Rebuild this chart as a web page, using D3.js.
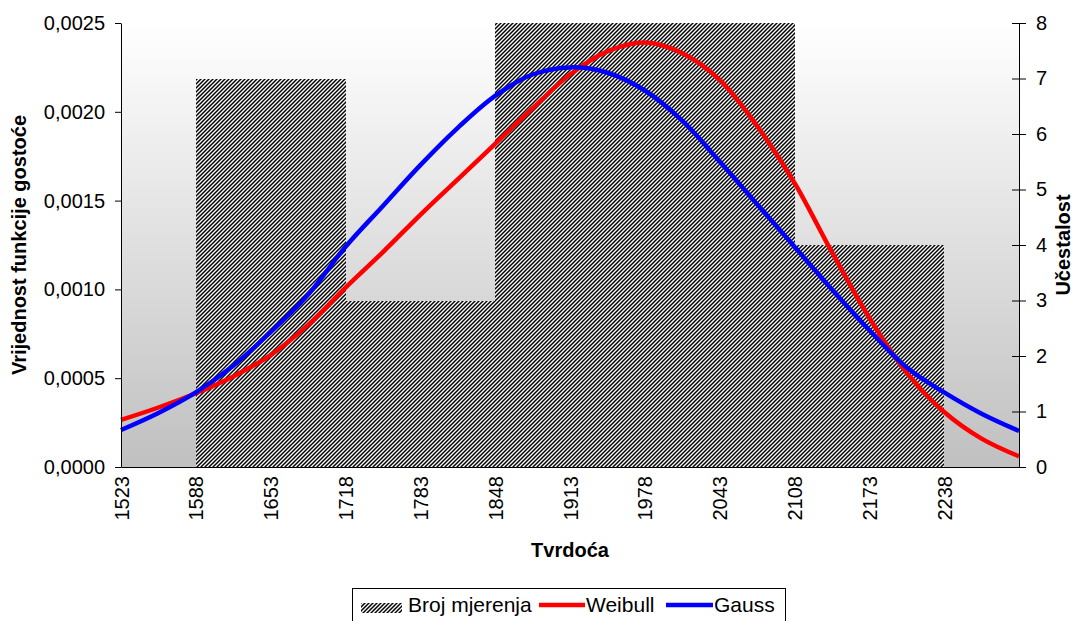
<!DOCTYPE html>
<html>
<head>
<meta charset="utf-8">
<script src="https://cdn.jsdelivr.net/npm/d3@7"></script>
<style>
	body { margin: 0; background: #fff; }
	text { font-family: "Liberation Sans", Arial, sans-serif; fill: #000; }
</style>
</head>
<body>
<div id="chart"></div>
<script>
(function() {
	"use strict";

	// kategorije (oznake na osi x) i broj mjerenja po kategoriji
	var categories = [1523, 1588, 1653, 1718, 1783, 1848, 1913, 1978, 2043, 2108, 2173, 2238],
		counts = [0, 7, 7, 3, 3, 8, 8, 8, 8, 4, 4, 0],
		binWidth = 65;

	// tocke krivulja ocitane sa slike
	var curveX = [1523, 1555.5, 1588, 1620.5, 1653, 1685.5, 1718, 1750.5, 1783, 1815.5, 1848, 1880.5,
		1913, 1945.5, 1978, 2010.5, 2043, 2075.5, 2108, 2140.5, 2173, 2205.5, 2238, 2270.5, 2303],
		weibull = [0.000265, 0.000335, 0.000415, 0.00051, 0.00063, 0.0008, 0.00101, 0.00121, 0.00142, 0.00162,
			0.00182, 0.00202, 0.00221, 0.00234, 0.00239, 0.00233, 0.00218, 0.00192, 0.0016, 0.00121,
			0.00084, 0.00053, 0.00031, 0.00016, 0.00006],
		gauss = [0.000208, 0.000304, 0.00042, 0.00057, 0.00076, 0.00097, 0.00124, 0.00147, 0.0017, 0.00191,
			0.00209, 0.00221, 0.00225, 0.00222, 0.00212, 0.00195, 0.00172, 0.00148, 0.00124, 0.001,
			0.00077, 0.00056, 0.00042, 0.0003, 0.000203];

	var leftTicks = [0, 0.0005, 0.001, 0.0015, 0.002, 0.0025],
		rightTicks = [0, 1, 2, 3, 4, 5, 6, 7, 8];

	var chartWidth = 1076,
		chartHeight = 621,
		plot = { left: 121, right: 1019, top: 23, bottom: 467 },
		fontSize = 20,
		titleSize = 20,
		legendSize = 21;

	var svg = d3.select("#chart")
		.append("svg")
		.attr("width", chartWidth)
		.attr("height", chartHeight);

	var defs = svg.append("defs");

	var grad = defs.append("linearGradient")
		.attr("id", "bg")
		.attr("x1", 0).attr("y1", 0)
		.attr("x2", 0).attr("y2", 1);
	grad.append("stop").attr("offset", "0%").attr("stop-color", "#ffffff");
	grad.append("stop").attr("offset", "100%").attr("stop-color", "#c0c0c0");

	var hatch = defs.append("pattern")
		.attr("id", "hatch")
		.attr("patternUnits", "userSpaceOnUse")
		.attr("width", 4)
		.attr("height", 4);
	hatch.append("rect")
		.attr("width", 4)
		.attr("height", 4)
		.attr("fill", "#fff");
	hatch.append("path")
		.attr("d", "M-1,1 l2,-2 M0,4 l4,-4 M3,5 l2,-2")
		.attr("stroke", "#000")
		.attr("stroke-width", 1.5);

	var x = d3.scaleLinear()
			.domain([categories[0], categories[categories.length - 1] + binWidth])
			.range([plot.left, plot.right]),
		yLeft = d3.scaleLinear()
			.domain([0, 0.0025])
			.range([plot.bottom, plot.top]),
		yRight = d3.scaleLinear()
			.domain([0, 8])
			.range([plot.bottom, plot.top]);

	// pozadina
	svg.append("rect")
		.attr("x", plot.left)
		.attr("y", plot.top)
		.attr("width", plot.right - plot.left)
		.attr("height", plot.bottom - plot.top)
		.attr("fill", "url(#bg)");

	// stupci
	svg.append("g")
		.selectAll("rect")
		.data(categories.map(function(c, i) { return { cat: c, n: counts[i] }; }).filter(function(d) { return d.n > 0; }))
		.enter()
		.append("rect")
		.attr("x", function(d) { return Math.round(x(d.cat)); })
		.attr("width", function(d) { return Math.round(x(d.cat + binWidth)) - Math.round(x(d.cat)); })
		.attr("y", function(d) { return yRight(d.n); })
		.attr("height", function(d) { return plot.bottom - yRight(d.n); })
		.attr("fill", "url(#hatch)")
		.attr("shape-rendering", "crispEdges");

	// krivulje
	var line = d3.line()
		.x(function(d) { return x(d[0]); })
		.y(function(d) { return yLeft(d[1]); })
		.curve(d3.curveCatmullRom);

	svg.append("path")
		.datum(curveX.map(function(v, i) { return [v, weibull[i]]; }))
		.attr("d", line)
		.attr("fill", "none")
		.attr("stroke", "#ff0000")
		.attr("stroke-width", 4.5);

	svg.append("path")
		.datum(curveX.map(function(v, i) { return [v, gauss[i]]; }))
		.attr("d", line)
		.attr("fill", "none")
		.attr("stroke", "#0000ff")
		.attr("stroke-width", 4.5);

	// osi
	var leftAxis = svg.append("g")
		.attr("transform", "translate(" + plot.left + ",0)")
		.call(d3.axisLeft(yLeft)
			.tickValues(leftTicks)
			.tickSize(6)
			.tickSizeOuter(0)
			.tickPadding(10)
			.tickFormat(function(d) { return d3.format(".4f")(d).replace(".", ","); }));

	var rightAxis = svg.append("g")
		.attr("transform", "translate(" + plot.right + ",0)")
		.call(d3.axisRight(yRight)
			.tickValues(rightTicks)
			.tickSize(7)
			.tickSizeOuter(0)
			.tickPadding(10)
			.tickFormat(d3.format("d")));
	rightAxis.selectAll(".tick line").attr("x1", -7);

	var bottomAxis = svg.append("g")
		.attr("transform", "translate(0," + plot.bottom + ")")
		.call(d3.axisBottom(x)
			.tickValues(categories)
			.tickSize(0)
			.tickSizeOuter(0)
			.tickFormat(d3.format("d")));
	bottomAxis.selectAll(".tick text")
		.attr("transform", "rotate(-90)")
		.attr("text-anchor", "end")
		.attr("x", -9)
		.attr("y", 0)
		.attr("dy", "0.35em");

	[leftAxis, rightAxis, bottomAxis].forEach(function(a) {
		a.selectAll("text")
			.style("font-size", fontSize + "px")
			.style("font-family", "'Liberation Sans', Arial, sans-serif")
			.attr("fill", "#000");
		a.selectAll("line, path").attr("stroke", "#000");
	});

	// naslovi osi
	svg.append("text")
		.attr("x", (plot.left + plot.right) / 2)
		.attr("y", 557)
		.attr("text-anchor", "middle")
		.style("font-size", titleSize + "px")
		.style("font-weight", "bold")
		.text("Tvrdoća");

	svg.append("text")
		.attr("transform", "translate(26," + (plot.top + plot.bottom) / 2 + ") rotate(-90)")
		.attr("text-anchor", "middle")
		.style("font-size", titleSize + "px")
		.style("font-weight", "bold")
		.text("Vrijednost funkcije gostoće");

	svg.append("text")
		.attr("transform", "translate(1070," + (plot.top + plot.bottom) / 2 + ") rotate(-90)")
		.attr("text-anchor", "middle")
		.style("font-size", titleSize + "px")
		.style("font-weight", "bold")
		.text("Učestalost");

	// legenda
	var legend = svg.append("g");
	legend.append("rect")
		.attr("x", 352.5)
		.attr("y", 588.5)
		.attr("width", 433)
		.attr("height", 40)
		.attr("fill", "#fff")
		.attr("stroke", "#000");

	legend.append("rect")
		.attr("x", 361)
		.attr("y", 603)
		.attr("width", 41)
		.attr("height", 10)
		.attr("fill", "url(#hatch)");
	legend.append("text")
		.attr("x", 408)
		.attr("y", 612)
		.style("font-size", legendSize + "px")
		.text("Broj mjerenja");

	legend.append("line")
		.attr("x1", 539).attr("x2", 585)
		.attr("y1", 605).attr("y2", 605)
		.attr("stroke", "#ff0000")
		.attr("stroke-width", 4.5);
	legend.append("text")
		.attr("x", 586)
		.attr("y", 612)
		.style("font-size", legendSize + "px")
		.text("Weibull");

	legend.append("line")
		.attr("x1", 666).attr("x2", 713)
		.attr("y1", 605).attr("y2", 605)
		.attr("stroke", "#0000ff")
		.attr("stroke-width", 4.5);
	legend.append("text")
		.attr("x", 714)
		.attr("y", 612)
		.style("font-size", legendSize + "px")
		.text("Gauss");
})();
</script>
</body>
</html>
